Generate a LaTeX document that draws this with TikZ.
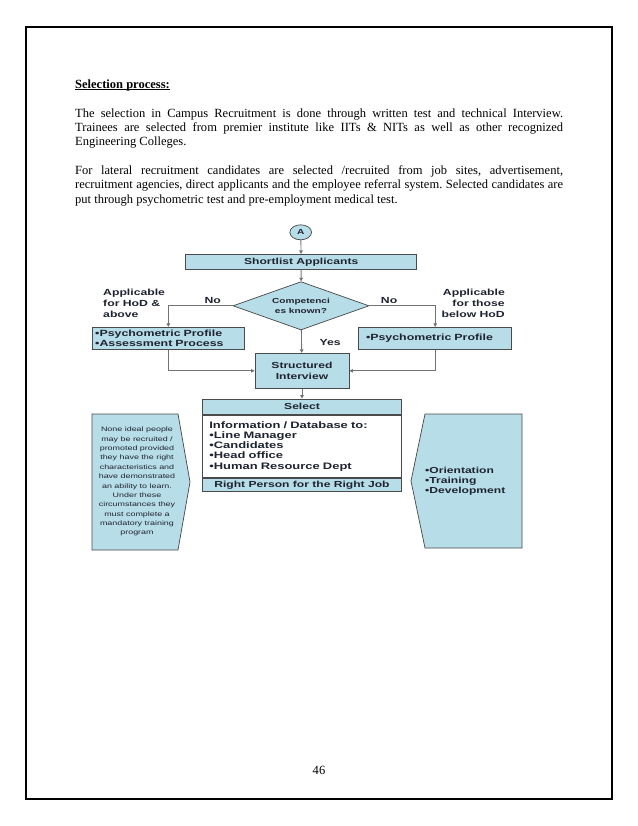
\documentclass[tikz,border=0pt]{standalone}
\usepackage{fontspec}
\setmainfont{Liberation Serif}
\newfontfamily\chartfont[FakeStretch=1.38]{Liberation Sans}
\usetikzlibrary{positioning, shapes.geometric, arrows.meta, calc}
\definecolor{aqua}{HTML}{B7DDE8}
\definecolor{boxline}{HTML}{4A4A4A}
\definecolor{connline}{HTML}{737373}
\definecolor{ink}{HTML}{1E2330}
\def\pxu{0.9593pt}
\newsavebox\titlebox
\newcommand\titleline[1]{\sbox\titlebox{#1}\rlap{\rule[-1.6pt]{\wd\titlebox}{0.8pt}}\usebox\titlebox}

\begin{document}
\begin{tikzpicture}[
    x=0.9593pt, y=-0.9593pt,
    >={Triangle[length=3.4pt, width=3.4pt]},
    every node/.style={inner sep=0pt},
    box/.style={draw=boxline, fill=aqua, line width=0.7pt, text=ink, align=center,
        font=\chartfont\bfseries\fontsize{8.4}{10.5}\selectfont},
    lbl/.style={text=ink, font=\chartfont\bfseries\fontsize{8.5}{10.5}\selectfont},
    conn/.style={->, draw=connline, line width=0.8pt},
    chev/.style={draw=boxline, fill=aqua, line width=0.7pt},
    body/.style={font=\fontsize{12}{13.8}\selectfont},
]
\useasboundingbox (0,0) rectangle (638,826);

% === Page frame and text ===
\draw[line width=1.8pt] (26,27) rectangle (612,799);
\node[body, anchor=base west] (title) at (75,88) {\titleline{\textbf{Selection process:}}};
\node[body, anchor=base west] (para1) at (75,117) {\parbox[t]{468pt}{\frenchspacing\hyphenpenalty=10000
    The selection in Campus Recruitment is done through written test and technical Interview.\linebreak
    Trainees are selected from premier institute like IITs \& NITs as well as other recognized\linebreak
    Engineering Colleges.}};
\node[body, anchor=base west] (para2) at (75,174.6) {\parbox[t]{468pt}{\frenchspacing\hyphenpenalty=10000
    For lateral recruitment candidates are selected /recruited from job sites, advertisement,\linebreak
    recruitment agencies, direct applicants and the employee referral system. Selected candidates are\linebreak
    put through psychometric test and pre-employment medical test.}};
\node[body, anchor=base] (pagenum) at (319,774) {46};

% === Flow chart ===
\node[box, ellipse, minimum width=21.7*\pxu, minimum height=15*\pxu,
    font=\chartfont\bfseries\fontsize{7}{8}\selectfont] (start) at (300.7,232.3) {A};
\node[box, minimum width=231*\pxu, minimum height=15*\pxu] (shortlist) at (301.2,261.8) {Shortlist Applicants};
\node[box, diamond, aspect=2.8, minimum width=136*\pxu, minimum height=48.3*\pxu,
    font=\chartfont\bfseries\fontsize{7}{10}\selectfont] (comp) at (301,305.8) {Competenci\\es known?};

% side boxes
\node[box, align=left, text width=146.3*\pxu, inner xsep=2.5*\pxu, minimum height=22.4*\pxu,
    font=\chartfont\bfseries\fontsize{8.6}{9.6}\selectfont] (hodbox) at (168.35,338.5)
    {•Psychometric Profile\\•Assessment Process};
\node[box, align=left, text width=138.4*\pxu, inner xsep=7.3*\pxu, minimum height=22.4*\pxu,
    font=\chartfont\bfseries\fontsize{8.6}{9.6}\selectfont] (belowbox) at (435.2,338.5)
    {•Psychometric Profile};
\node[lbl, align=left, anchor=west] (hodnote) at (103,303.3) {Applicable\\for HoD \&\\above};
\node[lbl, align=right, anchor=east] (belownote) at (505,303.3) {Applicable\\for those\\below HoD};

\node[box, minimum width=94*\pxu, minimum height=35*\pxu] (interview) at (302,370.8) {Structured\\Interview};

% Select block (head, body, foot)
\node[box, minimum width=199.4*\pxu, minimum height=15.3*\pxu] (selhead) at (302,406.65) {Select};
\node[box, fill=white, below=0pt of selhead, align=left, text width=185.4*\pxu, inner xsep=7*\pxu,
    minimum height=62.4*\pxu, font=\chartfont\bfseries\fontsize{9}{9.8}\selectfont] (selbody)
    {Information / Database to:\\•Line Manager\\•Candidates\\•Head office\\•Human Resource Dept};
\node[box, minimum width=199.4*\pxu, minimum height=13.3*\pxu, below=0pt of selbody] (selfoot)
    {Right Person for the Right Job};

% side chevrons
\draw[chev] (92,414) -- (178,414) -- (190,482) -- (178,550) -- (92,550) -- cycle;
\node[text=ink, align=center, font=\chartfont\fontsize{6.2}{9}\selectfont] (leftnote) at (137,481.7)
    {None ideal people\\may be recruited /\\promoted provided\\they have the right\\characteristics and\\have demonstrated\\an ability to learn.\\Under these\\circumstances they\\must complete a\\mandatory training\\program};
\draw[chev] (425,414) -- (522,414) -- (522,548) -- (425,548) -- (411,481) -- cycle;
\node[lbl, align=left, anchor=west, font=\chartfont\bfseries\fontsize{8.4}{9.4}\selectfont] (devnote) at (425,481)
    {•Orientation\\•Training\\•Development};

% === Connectors ===
\draw[conn] (start) -- (shortlist);
\draw[conn] (shortlist) -- (comp);
\draw[conn] (comp.west) -| (hodbox.north) node[lbl, pos=0.155, above=2pt] {No};
\draw[conn] (comp.east) -| (belowbox.north) node[lbl, pos=0.15, above=2pt] {No};
\draw[conn] (comp) -- (interview) node[lbl, pos=0.545, right=17pt] {Yes};
\draw[conn] (hodbox.south) |- (interview.west);
\draw[conn] (belowbox.south) |- (interview.east);
\draw[conn] (interview) -- (selhead);

\end{tikzpicture}
\end{document}
